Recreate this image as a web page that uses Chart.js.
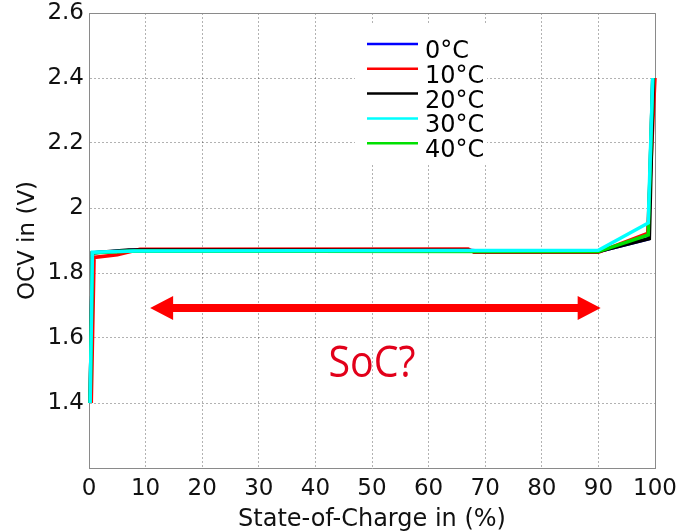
<!DOCTYPE html>
<html>
<head>
<meta charset="utf-8">
<script src="https://cdn.jsdelivr.net/npm/chart.js@4/dist/chart.umd.min.js"></script>
<style>
  html, body { margin: 0; padding: 0; background: #ffffff; }
  #wrap { width: 691px; height: 531px; }
</style>
</head>
<body>
<div id="wrap"><canvas id="c" width="691" height="531"></canvas></div>
<script>
// Open-circuit voltage vs. state of charge, per temperature
const seriesLabels = ['0°C', '10°C', '20°C', '30°C', '40°C'];

const soc_0C  = [0.2, 0.6, 8, 30, 67, 70, 90, 98.8, 99.6];
const ocv_0C  = [1.40, 1.862, 1.870, 1.870, 1.870, 1.866, 1.866, 1.905, 2.40];

const soc_10C = [0.4, 0.9, 5, 9, 67, 68, 90, 98.7, 100];
const ocv_10C = [1.40, 1.848, 1.856, 1.873, 1.874, 1.864, 1.864, 1.922, 2.40];

const soc_20C = [0.2, 0.6, 7, 67, 68, 90, 99, 99.7];
const ocv_20C = [1.40, 1.862, 1.871, 1.870, 1.866, 1.866, 1.906, 2.40];

const soc_30C = [0.2, 0.6, 8, 70, 90, 98.8, 99.6];
const ocv_30C = [1.40, 1.864, 1.868, 1.869, 1.870, 1.954, 2.40];

const soc_40C = [0.2, 0.6, 8, 70, 90, 98.8, 99.6];
const ocv_40C = [1.40, 1.862, 1.868, 1.866, 1.866, 1.917, 2.40];

const xTicks = [0, 10, 20, 30, 40, 50, 60, 70, 80, 90, 100];
const yTicks = [1.2, 1.4, 1.6, 1.8, 2.0, 2.2, 2.4, 2.6];

// Range the usable flat plateau spans (arrow) and its caption
const plateauFrom = 10.8;
const plateauTo = 90.4;
const arrowLevel = 1.692;
const captionText = 'SoC?';
const captionAt = { x: 50, y: 1.48 };

const pts = (xs, ys) => xs.map((x, i) => ({ x: x, y: ys[i] }));

const colors = ['#0000ff', '#ff0000', '#000000', '#00ffff', '#00e000'];
const drawOrder = [4, 3, 2, 0, 1];   // cyan on top, then green, black, red, blue

const allSoc = [soc_0C, soc_10C, soc_20C, soc_30C, soc_40C];
const allOcv = [ocv_0C, ocv_10C, ocv_20C, ocv_30C, ocv_40C];

const datasets = seriesLabels.map((lab, i) => ({
  label: lab,
  data: pts(allSoc[i], allOcv[i]),
  borderColor: colors[i],
  backgroundColor: colors[i],
  borderWidth: 3.5,
  pointRadius: 0,
  tension: 0,
  fill: false,
  clip: false,
  order: drawOrder[i]
}));

const TICK_FONT = { family: 'DejaVu Sans', size: 23 };
const TITLE_FONT = { family: 'DejaVu Sans', size: 24 };

// box outline on top/right sides
const framePlugin = {
  id: 'frame',
  beforeDatasetsDraw(chart) {
    const { ctx, chartArea: a } = chart;
    ctx.save();
    ctx.strokeStyle = '#8a8a8a';
    ctx.lineWidth = 1;
    ctx.beginPath();
    ctx.moveTo(a.left, a.top + 0.5);
    ctx.lineTo(a.right + 0.5, a.top + 0.5);
    ctx.lineTo(a.right + 0.5, a.bottom);
    ctx.stroke();
    ctx.restore();
  }
};

// double-headed arrow plus caption
const arrowPlugin = {
  id: 'plateauArrow',
  afterDatasetsDraw(chart) {
    const { ctx, scales: { x, y } } = chart;
    const x1 = x.getPixelForValue(plateauFrom);
    const x2 = x.getPixelForValue(plateauTo);
    const yy = y.getPixelForValue(arrowLevel);
    const headL = 23, headH = 12, shaft = 4;
    ctx.save();
    ctx.fillStyle = '#ff0000';
    ctx.beginPath();
    ctx.moveTo(x1, yy);
    ctx.lineTo(x1 + headL, yy - headH);
    ctx.lineTo(x1 + headL, yy - shaft);
    ctx.lineTo(x2 - headL, yy - shaft);
    ctx.lineTo(x2 - headL, yy - headH);
    ctx.lineTo(x2, yy);
    ctx.lineTo(x2 - headL, yy + headH);
    ctx.lineTo(x2 - headL, yy + shaft);
    ctx.lineTo(x1 + headL, yy + shaft);
    ctx.lineTo(x1 + headL, yy + headH);
    ctx.closePath();
    ctx.fill();

    const cx = x.getPixelForValue(captionAt.x);
    const cy = y.getPixelForValue(captionAt.y);
    ctx.font = '44px "Open Sans"';
    ctx.fillStyle = '#e2001a';
    ctx.textBaseline = 'alphabetic';
    const w = ctx.measureText(captionText).width;
    const sx = 87 / w;
    ctx.translate(cx, cy);
    ctx.scale(sx, 1);
    ctx.textAlign = 'center';
    ctx.fillText(captionText, 0, 0);
    ctx.restore();
  }
};

// legend drawn inside the plot area
const legendPlugin = {
  id: 'innerLegend',
  afterDraw(chart) {
    const { ctx, chartArea: a } = chart;
    const left = a.left + 266, top = a.top + 11;
    ctx.save();
    ctx.fillStyle = '#ffffff';
    ctx.fillRect(left, top, 132, 139);
    ctx.font = '24px "DejaVu Sans"';
    ctx.textBaseline = 'alphabetic';
    ctx.textAlign = 'left';
    chart.data.datasets.forEach((ds, i) => {
      const ly = top + 20 + i * 24.8;
      ctx.strokeStyle = ds.borderColor;
      ctx.lineWidth = 2.5;
      ctx.beginPath();
      ctx.moveTo(left + 12, ly);
      ctx.lineTo(left + 63, ly);
      ctx.stroke();
      ctx.fillStyle = '#000000';
      ctx.fillText(ds.label, left + 70, ly + 14);
    });
    ctx.restore();
  }
};

new Chart(document.getElementById('c'), {
  type: 'line',
  data: { datasets: datasets },
  options: {
    responsive: false,
    animation: false,
    layout: { padding: { top: 13, right: 36, left: 0, bottom: 0 } },
    plugins: { legend: { display: false }, tooltip: { enabled: false } },
    scales: {
      x: {
        type: 'linear',
        min: xTicks[0],
        max: xTicks[xTicks.length - 1],
        afterBuildTicks(s) { s.ticks = xTicks.map(v => ({ value: v })); },
        afterFit(s) { s.height = 63; s.paddingLeft = 0; s.paddingRight = 0; },
        ticks: { font: TICK_FONT, color: '#111', padding: 7, maxRotation: 0, autoSkip: false,
                 callback: v => String(v) },
        grid: { color: 'rgba(0,0,0,0.3)', lineWidth: 1, drawTicks: false },
        border: { display: true, color: '#8a8a8a', width: 1, dash: [2, 2] },
        title: { display: true, text: 'State-of-Charge in (%)', font: TITLE_FONT, color: '#111',
                 padding: { top: 0, bottom: -3 } }
      },
      y: {
        type: 'linear',
        min: yTicks[0],
        max: yTicks[yTicks.length - 1],
        afterBuildTicks(s) { s.ticks = yTicks.map(v => ({ value: v })); },
        afterFit(s) { s.width = 89; s.paddingTop = 0; s.paddingBottom = 0; },
        ticks: { font: TICK_FONT, color: '#111', padding: 5, autoSkip: false,
                 callback: v => (Math.abs(v - yTicks[0]) < 1e-6 ? '' : String(+v.toFixed(1))) },
        grid: { color: 'rgba(0,0,0,0.3)', lineWidth: 1, drawTicks: false },
        border: { display: true, color: '#8a8a8a', width: 1, dash: [2, 2] },
        title: { display: true, text: 'OCV in (V)', font: TICK_FONT, color: '#111',
                 padding: { top: 14, bottom: 0 } }
      }
    }
  },
  plugins: [framePlugin, arrowPlugin, legendPlugin]
});
</script>
</body>
</html>
